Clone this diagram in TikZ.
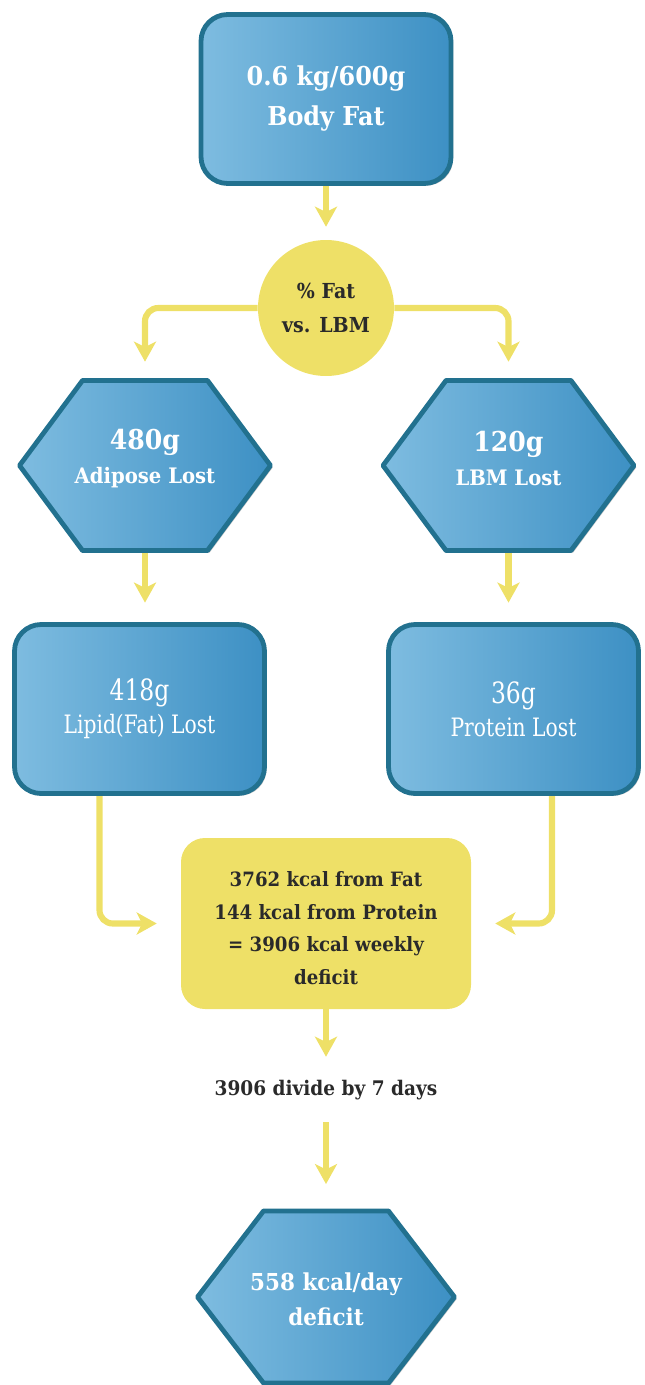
\documentclass[tikz,border=0pt]{standalone}
\usepackage{fontspec}
\setmainfont{DejaVu Serif}[FakeStretch=0.92]
\newfontfamily\narrowserif{DejaVu Serif}[FakeStretch=0.8]
\usetikzlibrary{arrows.meta,shadows,calc,backgrounds}

\definecolor{blueL}{HTML}{7EBCE0}
\definecolor{blueR}{HTML}{3D90C4}
\definecolor{blueB}{HTML}{22718F}
\definecolor{gold}{HTML}{EEE067}
\definecolor{ink}{HTML}{2A2A2A}

\tikzset{
  softshadow/.style={drop shadow={shadow xshift=1.6pt,shadow yshift=-1.6pt,opacity=0.22,fill=black}},
  bluefill/.style={left color=blueL,right color=blueR,draw=blueB,line width=3.6pt,line join=round},
  bluebox/.style={rectangle,rounded corners=20pt,bluefill,softshadow,
    minimum width=187.5pt,minimum height=126.75pt,inner sep=0pt,
    text=white,align=center},
  hexshape/.style={bluefill,softshadow},
  hexframe/.style={rectangle,inner sep=0pt},
  hexlabel/.style={inner sep=0pt,text=white,align=center},
  goldcircle/.style={circle,fill=gold,minimum size=102pt,inner sep=0pt,
    text=ink,align=center,font=\fontsize{15.5}{25}\selectfont\bfseries},
  goldbox/.style={rectangle,rounded corners=18pt,fill=gold,
    minimum width=217.5pt,minimum height=128.25pt,inner sep=0pt,
    text=ink,align=center,font=\fontsize{14.8}{24.5}\selectfont\bfseries},
  flow/.style={draw=gold,line width=4.6pt,
    -{Stealth[width=16.5pt,length=15pt,inset=4pt]}},
  bendflow/.style={flow,rounded corners=10pt},
  narrowtext/.style={font=\fontsize{19}{25}\selectfont\narrowserif},
}

% hexagon: name, centre, half width, half height, slant, label offset, font, text
\newcommand\hexnode[8]{%
  \path[hexshape] ($#2+(-#3,0)$) -- ($#2+(-#3+#5,-#4)$) -- ($#2+(#3-#5,-#4)$)
     -- ($#2+(#3,0)$) -- ($#2+(#3-#5,#4)$) -- ($#2+(-#3+#5,#4)$) -- cycle;
  \node[hexframe,minimum width=#3*1.5pt,minimum height=#4*1.5pt] (#1) at #2 {};
  \node[hexlabel,font=#7] (#1-label) at ($#2+(0,#6)$) {#8};
}

\begin{document}
\begin{tikzpicture}[x=0.75pt,y=-0.75pt]
\useasboundingbox (0,0) rectangle (644,1385);

% top box
\node[bluebox,font=\fontsize{19.5}{30}\selectfont\bfseries] (bodyfat) at (326,99)
  {0.6 kg/600g\\Body Fat};

% split circle
\node[goldcircle] (split) at (326,308) {\% Fat\\vs. LBM};

% second row hexagons
\hexnode{adipose}{(145,465.5)}{125.5}{85}{63}{-7}{\fontsize{16}{25.5}\selectfont\bfseries}
  {{\fontsize{20.5}{25.5}\selectfont 480g}\\Adipose Lost}
\hexnode{lbm}{(508.5,465.5)}{125.5}{85}{63}{-7}{\fontsize{16}{25.5}\selectfont\bfseries}
  {{\fontsize{20.5}{25.5}\selectfont 120g}\\LBM Lost}

% third row boxes
\node[bluebox,narrowtext] (lipid) at (139.5,709)
  {{\fontsize{22}{25}\selectfont 418g}\\Lipid(Fat) Lost};
\node[bluebox,narrowtext] (protein) at (513.5,709)
  {{\fontsize{22}{25}\selectfont 36g}\\Protein Lost};

% total
\node[goldbox] (total) at (326,923.5)
  {\rule{0pt}{18pt}3762 kcal from Fat\\144 kcal from Protein\\= 3906 kcal weekly\\deficit};

\node[inner sep=0pt,minimum height=30pt,text=ink,
  font=\fontsize{15.1}{18}\selectfont\bfseries] (divide) at (326,1090)
  {3906 divide by 7 days};

\hexnode{perday}{(326,1297)}{128.5}{86}{66}{2}{\fontsize{17.5}{26.5}\selectfont\bfseries}
  {558 kcal/day\\deficit}

% connectors
\begin{scope}[on background layer]
\draw[flow,shorten >=9.75pt] (bodyfat.south) -- (split.north);
\draw[bendflow,shorten >=13.9pt] (split.west) -| (adipose.north);
\draw[bendflow,shorten >=13.9pt] (split.east) -| (lbm.north);
\draw[flow,shorten >=14.6pt] (adipose.south) -- (adipose.south |- lipid.north);
\draw[flow,shorten >=14.6pt] (lbm.south) -- (lbm.south |- protein.north);
\draw[bendflow,shorten >=18pt] ($(lipid.south)+(-40,0)$) |- (total.west);
\draw[bendflow,shorten >=18pt] ($(protein.south)+(38.5,0)$) |- (total.east);
\draw[flow,shorten >=9.75pt] (total.south) -- (divide.north);
\draw[flow,shorten <=9pt,shorten >=20pt] (divide.south) -- (perday.north);
\end{scope}
\end{tikzpicture}
\end{document}
